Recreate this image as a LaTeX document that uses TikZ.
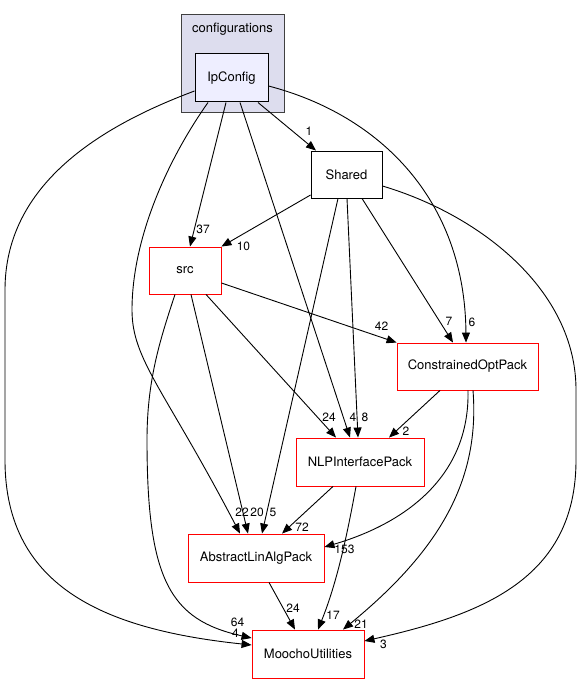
\documentclass[tikz,border=0pt]{standalone}
\usepackage{fontspec}
\setmainfont{TeX Gyre Heros}
\usetikzlibrary{arrows.meta}
\definecolor{clfill}{HTML}{DDDDEE}
\definecolor{subfill}{HTML}{EEEEFF}
\definecolor{pen}{HTML}{404040}
\tikzstyle{cluster} = [draw=pen, fill=clfill, rectangle, line width=1pt,
    minimum width=103pt, minimum height=98pt, inner sep=0pt]
\tikzstyle{sub} = [draw=black, fill=subfill, rectangle, line width=1pt,
    minimum height=48pt, inner sep=0pt, font=\fontsize{13}{15}\selectfont]
\tikzstyle{block} = [draw=black, fill=white, rectangle,
    minimum height=47pt, inner sep=0pt, font=\fontsize{13}{15}\selectfont]
\tikzstyle{dirbox} = [draw=red, fill=white, rectangle,
    minimum height=48pt, inner sep=0pt, font=\fontsize{13}{15}\selectfont]
\tikzstyle{plain} = [inner sep=0pt, font=\fontsize{13}{15}\selectfont]
\tikzstyle{lbl} = [inner sep=0pt, font=\fontsize{12}{14}\selectfont]

\begin{document}
\begin{tikzpicture}[x=1pt, y=-1pt, line width=0.9pt,
    >={Triangle[length=10pt,width=8pt]}]
    \useasboundingbox (0,0) rectangle (581,684);
    % We start with the folder and the directory inside it
    \node [cluster] (cfg) at (232.5,64) {};
    \node [plain] (cfgname) at (232.5,29) {configurations};
    \node [sub, minimum width=73pt] (IpConfig) at (231.5,78) {IpConfig};
    % then the other directories
    \node [block, minimum width=71pt] (Shared) at (346.5,174.5) {Shared};
    \node [dirbox, minimum width=72pt, minimum height=47pt] (src) at (185,270.5) {src};
    \node [dirbox, minimum width=141pt, minimum height=47pt] (COP) at (467.5,366.5) {ConstrainedOptPack};
    \node [dirbox, minimum width=128pt] (NLP) at (360,462) {NLPInterfacePack};
    \node [dirbox, minimum width=136pt] (ALAP) at (256,558) {AbstractLinAlgPack};
    \node [dirbox, minimum width=112pt] (Moocho) at (308,654) {MoochoUtilities};

    % Edges out of IpConfig
    \draw [->] ([xshift=26.5pt]IpConfig.south) -- ([xshift=-30.5pt]Shared.north)
        node [lbl, xshift=-7pt, yshift=19pt] (l1) {1};
    \draw [->] ([xshift=-5.5pt]IpConfig.south) -- ([xshift=5pt]src.north)
        node [lbl, xshift=13pt, yshift=17pt] (l37) {37};
    \draw [->] ([xshift=-23.5pt]IpConfig.south) .. controls (166,162) and (132,240) .. (132,310)
        .. controls (132,360) and (165,390) .. ([xshift=-16pt]ALAP.north)
        node [lbl, xshift=2pt, yshift=21pt] (l22) {22};
    \draw [->] ([yshift=-13pt]IpConfig.west) .. controls (90,130) and (5,190) .. (5,290) -- (5,460)
        .. controls (5,590) and (110,630) .. ([yshift=9pt]Moocho.west)
        node [lbl, xshift=-16pt, yshift=12pt] (l4a) {4};
    \draw [->] ([xshift=8.5pt]IpConfig.south) -- ([xshift=-10pt]NLP.north)
        node [lbl, xshift=3pt, yshift=20pt] (l4b) {4};
    \draw [->] ([yshift=-8pt]IpConfig.east) .. controls (380,115) and (465,200) .. ([xshift=-1.5pt]COP.north)
        node [lbl, xshift=6pt, yshift=20pt] (l6) {6};

    % Edges out of Shared
    \draw [->] ([yshift=-20.5pt]Shared.west) -- (src.north east)
        node [lbl, xshift=22pt] (l10) {10};
    \draw [->] ([xshift=0.5pt]Shared.south) -- ([xshift=-2pt]NLP.north)
        node [lbl, xshift=7pt, yshift=20pt] (l8) {8};
    \draw [->] ([xshift=-8.5pt]Shared.south) -- ([xshift=6pt]ALAP.north)
        node [lbl, xshift=11pt, yshift=21pt] (l5) {5};
    \draw [->] ([xshift=15.5pt]Shared.south) -- ([xshift=-14.5pt]COP.north)
        node [lbl, xshift=-4pt, yshift=21pt] (l7) {7};
    \draw [->] ([yshift=-11.5pt]Shared.east) .. controls (480,215) and (576,290) .. (576,390) -- (576,460)
        .. controls (576,580) and (480,615) .. ([yshift=13pt]Moocho.east)
        node [lbl, xshift=19pt, yshift=-3pt] (l3) {3};

    % Edges out of src
    \draw [->] ([yshift=-12.5pt]src.east) -- (COP.north west)
        node [lbl, xshift=-15pt, yshift=16pt] (l42) {42};
    \draw [->] ([xshift=21pt]src.south) -- ([xshift=-24pt]NLP.north)
        node [lbl, xshift=-7pt, yshift=20pt] (l24a) {24};
    \draw [->] ([xshift=6pt]src.south) -- ([xshift=-8pt]ALAP.north)
        node [lbl, xshift=9pt, yshift=21pt] (l20) {20};
    \draw [->] ([xshift=-10pt]src.south) .. controls (160,340) and (147,380) .. (147,440)
        .. controls (147,580) and (170,620) .. ([yshift=16pt]Moocho.west)
        node [lbl, xshift=-14pt, yshift=16pt] (l64) {64};

    % Edges out of ConstrainedOptPack
    \draw [->] ([xshift=-27.5pt]COP.south) -- ([xshift=29pt]NLP.north)
        node [lbl, xshift=17pt, yshift=6pt] (l2) {2};
    \draw [->] ([xshift=0.5pt]COP.south) .. controls (470,480) and (400,525) .. ([yshift=11pt]ALAP.east)
        node [lbl, xshift=20pt, yshift=-2pt] (l153) {153};
    \draw [->] ([xshift=5.5pt]COP.south) .. controls (480,480) and (440,550) .. ([xshift=35pt]Moocho.north)
        node [lbl, xshift=18pt, yshift=5pt] (l21) {21};

    % and the last ones
    \draw [->] ([xshift=-27pt]NLP.south) -- ([xshift=26pt]ALAP.north)
        node [lbl, xshift=20pt, yshift=6pt] (l72) {72};
    \draw [->] ([xshift=-4pt]NLP.south) .. controls (348,530) and (338,580) .. ([xshift=10pt]Moocho.north)
        node [lbl, xshift=15pt, yshift=14pt] (l17) {17};
    \draw [->] ([xshift=13pt]ALAP.south) -- ([xshift=-13pt]Moocho.north)
        node [lbl, xshift=-2pt, yshift=21pt] (l24b) {24};
\end{tikzpicture}
\end{document}
